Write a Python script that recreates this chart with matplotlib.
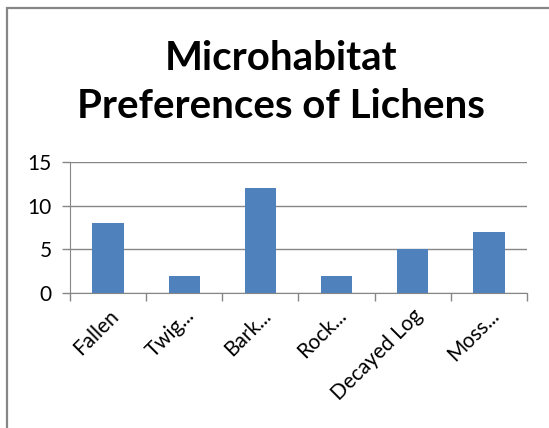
import matplotlib
matplotlib.use("Agg")
import matplotlib.pyplot as plt
import matplotlib.patches as mpatches
import numpy as np

# 数据
categories = ["Fallen", "Twig...", "Bark...", "Rock...", "Decayed Log", "Moss..."]
values = [8, 2, 12, 2, 5, 7]
y_ticks = [0, 5, 10, 15]

plt.rcParams['font.family'] = ['Lato', 'DejaVu Sans']

W, H = 549, 428
fig = plt.figure(figsize=(W / 100, H / 100), dpi=100)
fig.patch.set_facecolor('white')

# 外框（右边和下边超出画面）
frame = mpatches.Rectangle((7 / W, -0.1), 1.2, 1 - 8 / H + 0.1,
                           transform=fig.transFigure, fill=False,
                           edgecolor='#868686', linewidth=1.6)
fig.patches.append(frame)

# 标题
fig.text(281 / W, 1 - 58 / H, "Microhabitat", ha='center', va='center',
         fontsize=29, fontweight='bold', color='black')
fig.text(281 / W, 1 - 106 / H, "Preferences of Lichens", ha='center', va='center',
         fontsize=29, fontweight='bold', color='black')

ax = fig.add_axes([70 / W, 1 - 293 / H, (527 - 70) / W, (293 - 162) / H])
x = np.arange(len(categories))
ax.bar(x, values, width=0.41, color='#4F81BD', zorder=3)

ax.set_xlim(-0.5, len(categories) - 0.5)
ax.set_ylim(0, 15)
ax.set_yticks(y_ticks)
ax.yaxis.grid(True, color='#868686', linewidth=1)
ax.set_axisbelow(True)

# x轴刻度在类别边界
ax.set_xticks(np.arange(len(categories) + 1) - 0.5)
ax.set_xticklabels([])
ax.set_xticks(x, minor=True)
ax.set_xticklabels(categories, minor=True, rotation=45, ha='right',
                   rotation_mode='anchor', fontsize=15)
ax.tick_params(axis='x', which='minor', length=0, pad=9)
ax.tick_params(axis='x', which='major', length=6, color='#868686', width=1)
ax.tick_params(axis='y', length=6, color='#868686', width=1, labelsize=15, pad=7)

for side in ['top', 'right']:
    ax.spines[side].set_visible(False)
ax.spines['left'].set_color('#868686')
ax.spines['bottom'].set_color('#868686')

fig.savefig("out.png", dpi=100)
